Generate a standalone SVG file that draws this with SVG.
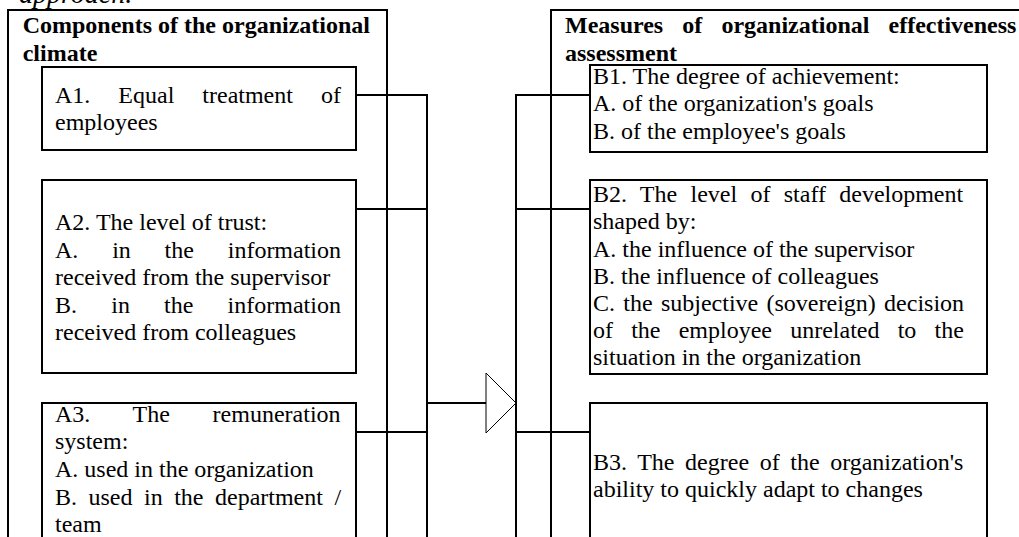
<svg xmlns="http://www.w3.org/2000/svg" width="1019" height="537" viewBox="0 0 1019 537">
  <style>
    .frame { fill: #ffffff; stroke: #000000; stroke-width: 2; }
    .item { fill: #ffffff; stroke: #000000; stroke-width: 2; }
    .wire { fill: none; stroke: #000000; stroke-width: 2; }
    .head { fill: #ffffff; stroke: #000000; stroke-width: 1; }
    text { font-family: "Liberation Serif", "Times New Roman", serif; font-size: 24px; fill: #000000; }
    .title { font-weight: bold; }
    .caption { font-style: italic; font-size: 28px; }
  </style>

  <rect x="0" y="0" width="1019" height="537" fill="#ffffff"/>

  <!-- caption line above the figure (partly cut off) -->
  <text class="caption" x="19" y="3">approach.</text>

  <!-- left panel: components of the climate -->
  <g id="panel-climate">
    <rect class="frame" x="8" y="10" width="379" height="600"/>
    <text class="title" x="22.7" y="33">Components of the organizational</text>
    <text class="title" x="22.7" y="60.5">climate</text>
  </g>

  <!-- right panel: effectiveness measures -->
  <g id="panel-effectiveness">
    <rect class="frame" x="551" y="10" width="500" height="600"/>
    <text class="title" x="565" y="33" style="word-spacing:13.1px">Measures of organizational effectiveness</text>
    <text class="title" x="565" y="60.5">assessment</text>
  </g>

  <g id="a1">
    <rect class="item" x="42" y="67" width="314" height="83"/>
    <text x="55" y="103" style="word-spacing:22px">A1. Equal treatment of</text>
    <text x="55" y="130">employees</text>
  </g>

  <g id="a2">
    <rect class="item" x="42" y="180" width="314" height="193"/>
    <text x="55" y="230">A2. The level of trust:</text>
    <text x="55" y="257.5" style="word-spacing:27.8px">A. in the information</text>
    <text x="55" y="285">received from the supervisor</text>
    <text x="55" y="312.5" style="word-spacing:28.2px">B. in the information</text>
    <text x="55" y="340">received from colleagues</text>
  </g>

  <g id="a3">
    <rect class="item" x="42" y="403" width="314" height="200"/>
    <text x="55" y="421.5" style="word-spacing:36.7px">A3. The remuneration</text>
    <text x="55" y="449">system:</text>
    <text x="55" y="477">A. used in the organization</text>
    <text x="55" y="504.5" style="word-spacing:5.5px">B. used in the department /</text>
    <text x="55" y="532">team</text>
  </g>

  <g id="b1">
    <rect class="item" x="590" y="65" width="397" height="87"/>
    <text x="593" y="83.5">B1. The degree of achievement:</text>
    <text x="593" y="111">A. of the organization's goals</text>
    <text x="593" y="138.5">B. of the employee's goals</text>
  </g>

  <g id="b2">
    <rect class="item" x="590" y="180" width="397" height="194"/>
    <text x="593" y="202" style="word-spacing:7.3px">B2. The level of staff development</text>
    <text x="593" y="229">shaped by:</text>
    <text x="593" y="256.5">A. the influence of the supervisor</text>
    <text x="593" y="283.5">B. the influence of colleagues</text>
    <text x="593" y="310.5" style="word-spacing:2.3px">C. the subjective (sovereign) decision</text>
    <text x="593" y="338" style="word-spacing:12.2px">of the employee unrelated to the</text>
    <text x="593" y="365">situation in the organization</text>
  </g>

  <g id="b3">
    <rect class="item" x="590" y="403" width="397" height="200"/>
    <text x="593" y="470" style="word-spacing:4.6px">B3. The degree of the organization's</text>
    <text x="593" y="497">ability to quickly adapt to changes</text>
  </g>

  <!-- connectors: two buses joined by the open-headed arrow -->
  <g id="connectors">
    <path class="wire" d="M356 95 H427 M356 209 H427 M356 432 H427 M427 94 V540"/>
    <path class="wire" d="M516 95 H590 M516 209 H590 M516 432 H590 M516 94 V540"/>
    <path class="wire" d="M427 403 H486"/>
    <polygon class="head" points="486,373 516,403 486,433"/>
  </g>
</svg>
